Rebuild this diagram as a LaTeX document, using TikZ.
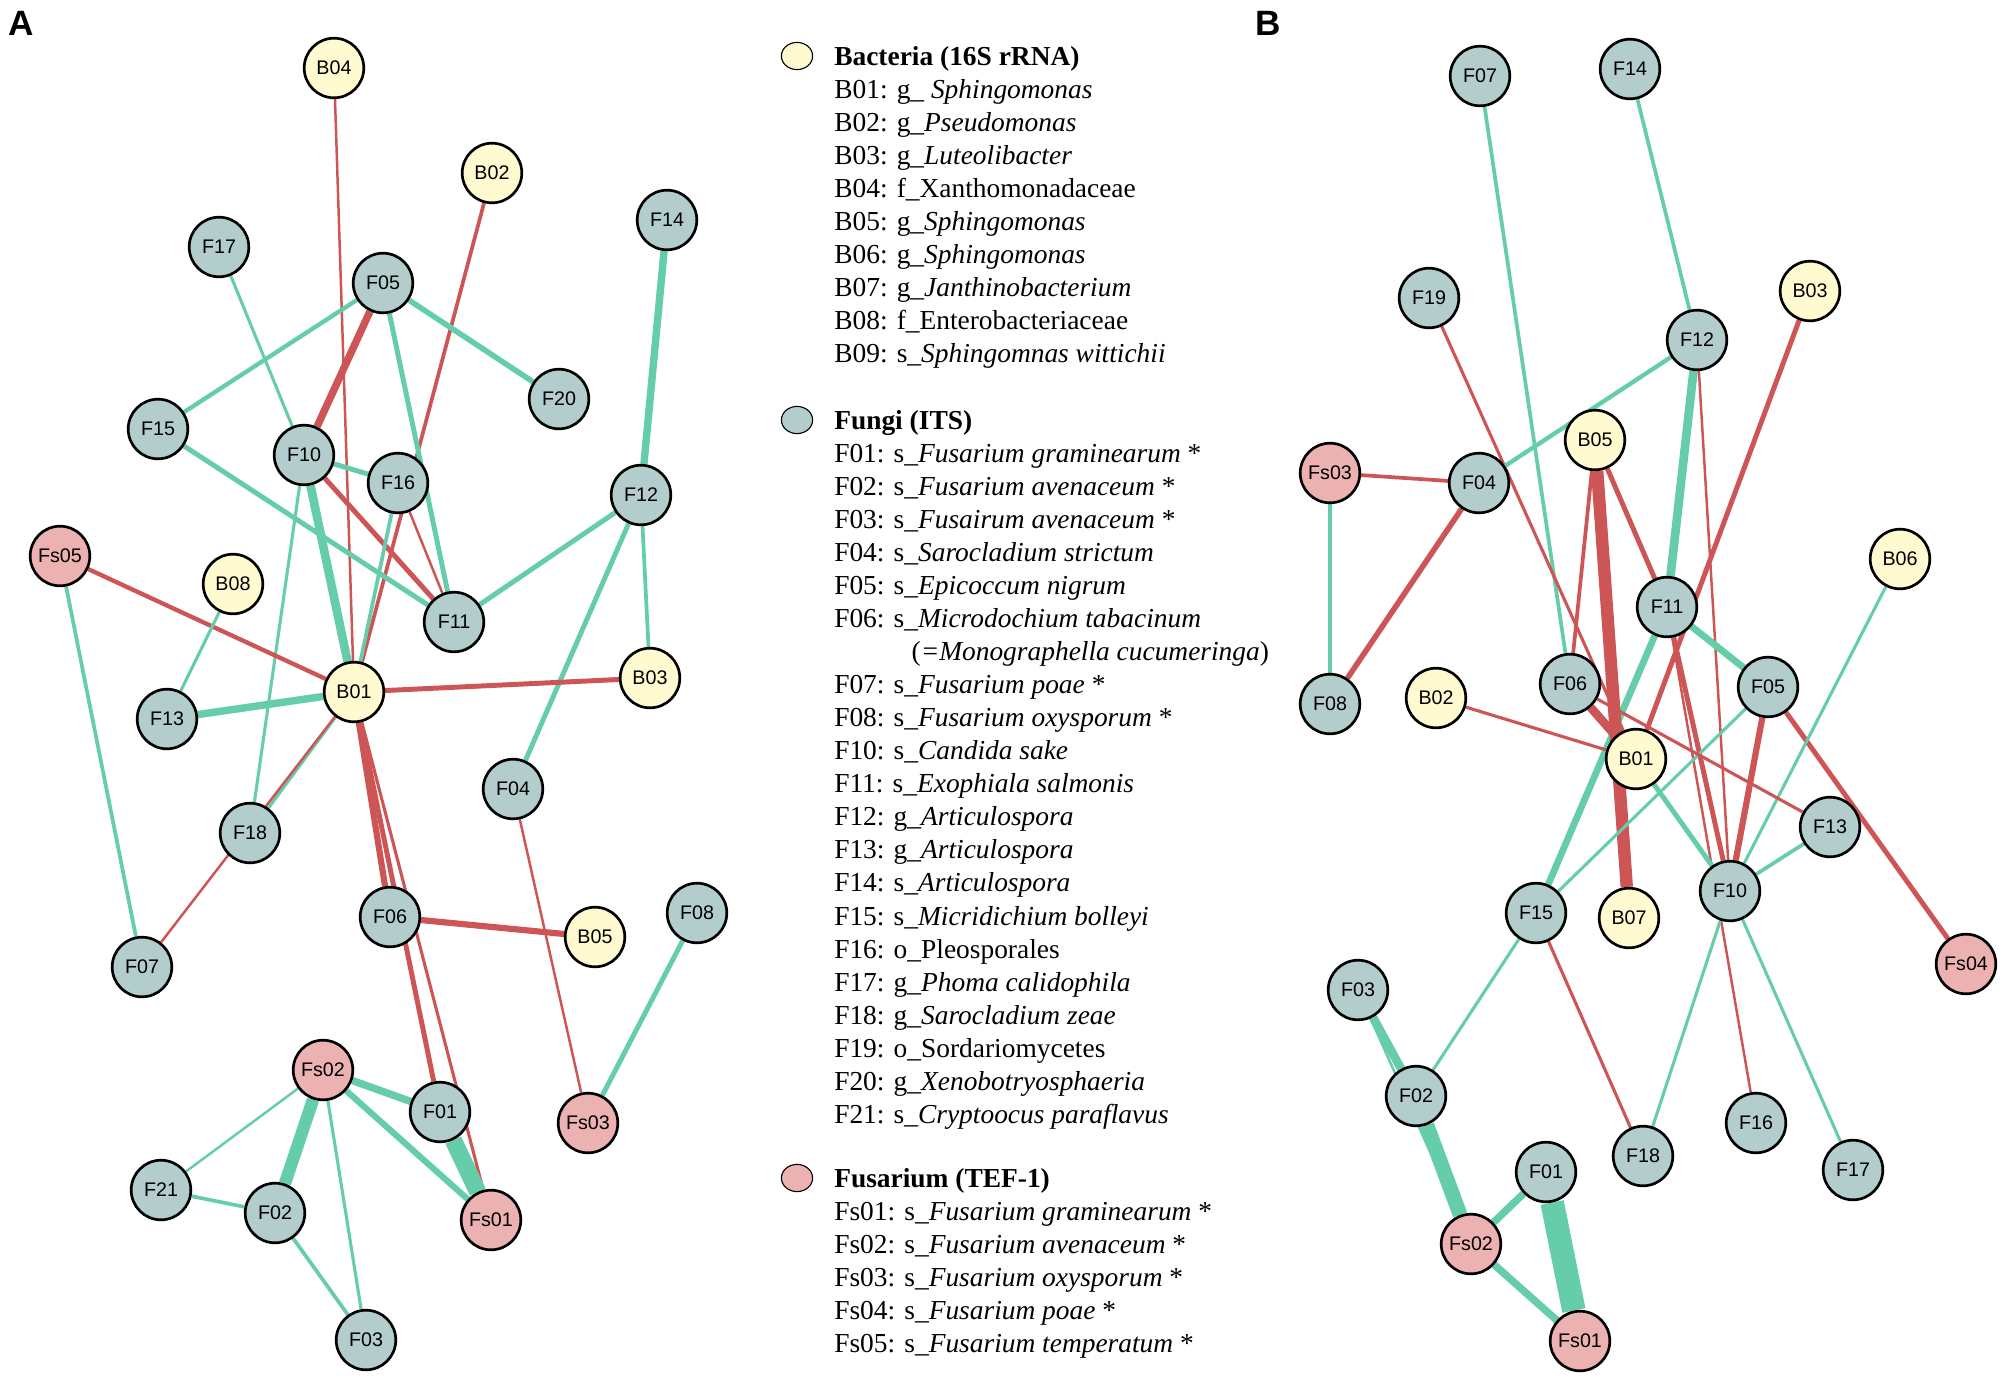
\documentclass[tikz,border=0pt]{standalone}
\usepackage{fontspec}
\setmainfont{Liberation Serif}
\setsansfont{Liberation Sans}
\usetikzlibrary{shapes.geometric}
\usetikzlibrary{backgrounds}

\definecolor{bactfill}{RGB}{255,250,208}
\definecolor{fungfill}{RGB}{178,205,204}
\definecolor{fusfill}{RGB}{236,178,178}
\definecolor{linkgreen}{RGB}{102,205,170}
\definecolor{linkred}{RGB}{205,85,85}

\begin{document}
\begin{tikzpicture}[x=0.025cm,y=-0.025cm,inner sep=0pt,
                    taxon/.style={circle,draw,line width=1.9pt,minimum size=1.49cm,
                                  font=\sffamily\fontsize{14}{14}\selectfont},
                    bact/.style={taxon,fill=bactfill},
                    fung/.style={taxon,fill=fungfill},
                    fus/.style={taxon,fill=fusfill},
                    poslink/.style={draw=linkgreen,line width=#1*0.88pt},
                    neglink/.style={draw=linkred,line width=#1*0.88pt},
                    legmark/.style={ellipse,draw,line width=0.8pt,minimum width=0.78cm,minimum height=0.68cm},
                    legtext/.style={anchor=north west,align=left,font=\fontsize{19.5}{23.5}\selectfont},
                    panel/.style={font=\sffamily\bfseries\fontsize{25}{25}\selectfont}]

  \useasboundingbox (0,0) rectangle (2006,1382);

  \node[panel] (labA) at (21,23)   {A};
  \node[panel] (labB) at (1268,23) {B};

  % panel A
  \node[bact] (aB04)  at (334,68)   {B04};
  \node[bact] (aB02)  at (492,173)  {B02};
  \node[fung] (aF17)  at (219,247)  {F17};
  \node[fung] (aF05)  at (383,283)  {F05};
  \node[fung] (aF14)  at (667,220)  {F14};
  \node[fung] (aF20)  at (559,399)  {F20};
  \node[fung] (aF15)  at (158,429)  {F15};
  \node[fung] (aF10)  at (304,455)  {F10};
  \node[fung] (aF16)  at (398,483)  {F16};
  \node[fung] (aF12)  at (641,495)  {F12};
  \node[fus]  (aFs05) at (60,556)   {Fs05};
  \node[bact] (aB08)  at (233,584)  {B08};
  \node[fung] (aF11)  at (454,622)  {F11};
  \node[bact] (aB03)  at (650,678)  {B03};
  \node[bact] (aB01)  at (354,692)  {B01};
  \node[fung] (aF13)  at (167,719)  {F13};
  \node[fung] (aF04)  at (513,789)  {F04};
  \node[fung] (aF18)  at (250,833)  {F18};
  \node[fung] (aF06)  at (390,917)  {F06};
  \node[bact] (aB05)  at (595,937)  {B05};
  \node[fung] (aF08)  at (697,913)  {F08};
  \node[fung] (aF07)  at (142,967)  {F07};
  \node[fus]  (aFs02) at (323,1070) {Fs02};
  \node[fung] (aF01)  at (440,1112) {F01};
  \node[fus]  (aFs03) at (588,1123) {Fs03};
  \node[fung] (aF21)  at (161,1190) {F21};
  \node[fung] (aF02)  at (275,1213) {F02};
  \node[fus]  (aFs01) at (491,1220) {Fs01};
  \node[fung] (aF03)  at (366,1340) {F03};

  \begin{scope}[on background layer]
  \path (aB04) edge[neglink=2]   (aB01)
        (aB02) edge[neglink=3]   (aB01)
        (aF05) edge[neglink=6]   (aF10)
               edge[poslink=3.5] (aF15)
               edge[poslink=4.5] (aF20)
               edge[poslink=4]   (aF11)
        (aF17) edge[poslink=2.5] (aF10)
        (aF15) edge[poslink=4]   (aF11)
        (aF10) edge[poslink=4]   (aF16)
               edge[neglink=4]   (aF11)
               edge[poslink=7]   (aB01)
               edge[poslink=2.5] (aF18)
        (aF16) edge[neglink=2]   (aF11)
               edge[poslink=3]   (aB01)
        (aF12) edge[poslink=6]   (aF14)
               edge[poslink=4]   (aF11)
               edge[poslink=3]   (aB03)
               edge[poslink=4]   (aF04)
        (aFs05) edge[neglink=3.5] (aB01)
                edge[poslink=3]   (aF07)
        (aB08) edge[poslink=2.5] (aF13)
        (aF13) edge[poslink=6]   (aB01)
        (aB01) edge[neglink=4]   (aB03)
               edge[poslink=2.5] (aF18)
               edge[neglink=2]   (aF07)
               edge[neglink=5]   (aF06)
               edge[neglink=4]   (aF01)
               edge[neglink=2.5] (aFs01)
        (aF06) edge[neglink=5]   (aB05)
        (aF04) edge[neglink=2]   (aFs03)
        (aF08) edge[poslink=4]   (aFs03)
        (aFs02) edge[poslink=6]   (aF01)
                edge[poslink=5]   (aFs01)
                edge[poslink=2]   (aF21)
                edge[poslink=10]  (aF02)
                edge[poslink=2.5] (aF03)
        (aF01) edge[poslink=14]  (aFs01)
        (aF21) edge[poslink=3]   (aF02)
        (aF02) edge[poslink=3]   (aF03);
  \end{scope}

  % legend
  \node[legmark,fill=bactfill] (mkB)  at (797,56)   {};
  \node[legmark,fill=fungfill] (mkF)  at (797,420)  {};
  \node[legmark,fill=fusfill]  (mkFs) at (797,1178) {};

  \node[legtext] (legB) at (834,46) {\textbf{Bacteria (16S rRNA)}\\
    B01: g\_ \textit{Sphingomonas}\\
    B02: g\_\textit{Pseudomonas}\\
    B03: g\_\textit{Luteolibacter}\\
    B04: f\_Xanthomonadaceae\\
    B05: g\_\textit{Sphingomonas}\\
    B06: g\_\textit{Sphingomonas}\\
    B07: g\_\textit{Janthinobacterium}\\
    B08: f\_Enterobacteriaceae\\
    B09: s\_\textit{Sphingomnas wittichii}};

  \node[legtext] (legF) at (834,410) {\textbf{Fungi (ITS)}\\
    F01: s\_\textit{Fusarium graminearum} *\\
    F02: s\_\textit{Fusarium avenaceum} *\\
    F03: s\_\textit{Fusairum avenaceum} *\\
    F04: s\_\textit{Sarocladium strictum}\\
    F05: s\_\textit{Epicoccum nigrum}\\
    F06: s\_\textit{Microdochium tabacinum}\\
    \hspace*{55pt}(\textit{=Monographella cucumeringa})\\
    F07: s\_\textit{Fusarium poae} *\\
    F08: s\_\textit{Fusarium oxysporum} *\\
    F10: s\_\textit{Candida sake}\\
    F11: s\_\textit{Exophiala salmonis}\\
    F12: g\_\textit{Articulospora}\\
    F13: g\_\textit{Articulospora}\\
    F14: s\_\textit{Articulospora}\\
    F15: s\_\textit{Micridichium bolleyi}\\
    F16: o\_Pleosporales\\
    F17: g\_\textit{Phoma calidophila}\\
    F18: g\_\textit{Sarocladium zeae}\\
    F19: o\_Sordariomycetes\\
    F20: g\_\textit{Xenobotryosphaeria}\\
    F21: s\_\textit{Cryptoocus paraflavus}};

  \node[legtext] (legFs) at (834,1168) {\textbf{Fusarium (TEF-1)}\\
    Fs01: s\_\textit{Fusarium graminearum} *\\
    Fs02: s\_\textit{Fusarium avenaceum} *\\
    Fs03: s\_\textit{Fusarium oxysporum} *\\
    Fs04: s\_\textit{Fusarium poae} *\\
    Fs05: s\_\textit{Fusarium temperatum} *};

  % panel B
  \node[fung] (bF07)  at (1480,76)   {F07};
  \node[fung] (bF14)  at (1630,69)   {F14};
  \node[fung] (bF19)  at (1429,298)  {F19};
  \node[bact] (bB03)  at (1810,291)  {B03};
  \node[fung] (bF12)  at (1697,340)  {F12};
  \node[bact] (bB05)  at (1595,440)  {B05};
  \node[fus]  (bFs03) at (1330,473)  {Fs03};
  \node[fung] (bF04)  at (1479,483)  {F04};
  \node[bact] (bB06)  at (1900,559)  {B06};
  \node[fung] (bF11)  at (1667,607)  {F11};
  \node[fung] (bF08)  at (1330,704)  {F08};
  \node[bact] (bB02)  at (1436,698)  {B02};
  \node[fung] (bF06)  at (1570,684)  {F06};
  \node[fung] (bF05)  at (1768,687)  {F05};
  \node[bact] (bB01)  at (1636,759)  {B01};
  \node[fung] (bF13)  at (1830,827)  {F13};
  \node[fung] (bF10)  at (1730,891)  {F10};
  \node[fung] (bF15)  at (1536,913)  {F15};
  \node[bact] (bB07)  at (1629,918)  {B07};
  \node[fus]  (bFs04) at (1966,964)  {Fs04};
  \node[fung] (bF03)  at (1358,990)  {F03};
  \node[fung] (bF02)  at (1416,1096) {F02};
  \node[fung] (bF16)  at (1756,1123) {F16};
  \node[fung] (bF18)  at (1643,1156) {F18};
  \node[fung] (bF17)  at (1853,1170) {F17};
  \node[fung] (bF01)  at (1546,1172) {F01};
  \node[fus]  (bFs02) at (1471,1244) {Fs02};
  \node[fus]  (bFs01) at (1580,1341) {Fs01};

  \begin{scope}[on background layer]
  \path (bF07) edge[poslink=3]   (bF06)
        (bF14) edge[poslink=3]   (bF12)
        (bF19) edge[neglink=2.5] (bB01)
        (bB03) edge[neglink=4]   (bB01)
        (bF12) edge[poslink=3.5] (bF04)
               edge[poslink=7]   (bF11)
               edge[neglink=2]   (bF10)
        (bF11) edge[poslink=5.5] (bF15)
               edge[neglink=4]   (bF10)
               edge[neglink=2]   (bF16)
               edge[poslink=5.5] (bF05)
        (bB05) edge[neglink=3]   (bF06)
               edge[neglink=10]  (bB07)
               edge[neglink=4]   (bF11)
        (bF05) edge[neglink=5]   (bF10)
               edge[poslink=2.5] (bF15)
               edge[neglink=4]   (bFs04)
        (bB06) edge[poslink=2.5] (bF10)
        (bF13) edge[poslink=3]   (bF10)
        (bF10) edge[poslink=2.5] (bF18)
               edge[poslink=2.5] (bF17)
        (bF06) edge[neglink=2.5] (bF13)
               edge[neglink=7]   (bB01)
        (bB02) edge[neglink=2.5] (bB01)
        (bB01) edge[poslink=4]   (bF10)
        (bFs03) edge[neglink=3]   (bF04)
                edge[poslink=4]   (bF08)
        (bF04) edge[neglink=4.5] (bF08)
        (bF15) edge[poslink=2.5] (bF02)
               edge[neglink=2.5] (bF18)
        (bF03) edge[poslink=7]   (bF02)
               edge[poslink=2]   (bFs02)
        (bF02) edge[poslink=12]  (bFs02)
        (bF01) edge[poslink=6]   (bFs02)
               edge[poslink=19]  (bFs01)
        (bFs02) edge[poslink=6]   (bFs01);
  \end{scope}
\end{tikzpicture}
\end{document}
